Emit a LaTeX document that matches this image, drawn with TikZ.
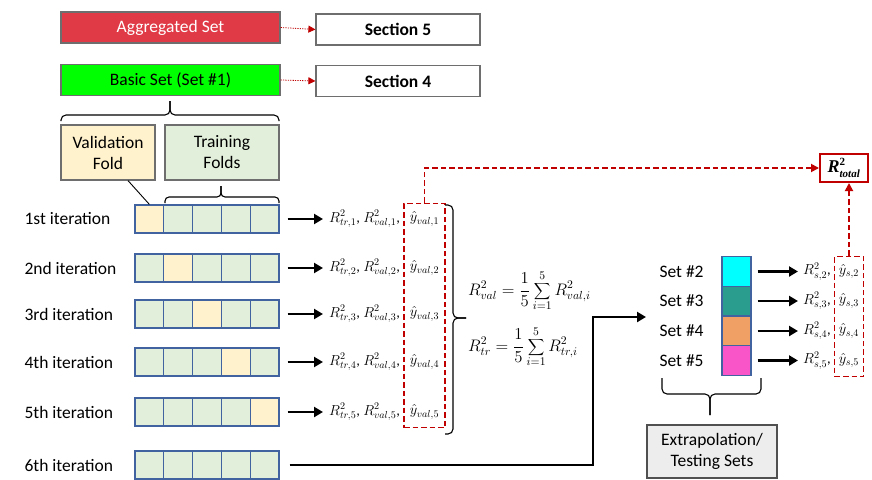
\RequirePackage{fix-cm}
\documentclass[tikz,border=0pt]{standalone}
\usepackage{fontspec}
\setmainfont{Carlito}
\newfontfamily\rtotfont{Liberation Serif}
\usetikzlibrary{arrows.meta,calc}
\definecolor{aggred}{RGB}{224,58,70}
\definecolor{basicgreen}{RGB}{0,255,0}
\definecolor{valfill}{RGB}{255,242,204}
\definecolor{trfill}{RGB}{226,239,218}
\definecolor{cellblue}{RGB}{65,100,160}
\definecolor{boxgray}{RGB}{110,110,110}
\definecolor{dred}{RGB}{192,0,0}
\definecolor{scolA}{RGB}{0,255,255}
\definecolor{scolB}{RGB}{42,157,143}
\definecolor{scolC}{RGB}{240,160,100}
\definecolor{scolD}{RGB}{250,85,200}
\definecolor{extfill}{RGB}{237,237,237}
\definecolor{extdraw}{RGB}{80,80,80}
\newcommand{\rtotsym}{$\mbox{\rtotfont\bfseries\itshape R}^{\mbox{\rtotfont\bfseries\fontsize{11}{11}\selectfont 2}}_{\mbox{\rtotfont\bfseries\itshape\fontsize{11}{11}\selectfont total}}$}
\begin{document}
\begin{tikzpicture}[x=1pt,y=-1pt,
  lbl/.style={font=\fontsize{17.5}{21}\selectfont},
  mth/.style={font=\fontsize{14.5}{16}\selectfont, inner sep=1},
  fml/.style={font=\fontsize{14.5}{16}\selectfont, anchor=west, inner sep=1},
  topbox/.style={draw=boxgray, line width=1.2, minimum width=219, minimum height=31, inner sep=0, lbl},
  secbox/.style={draw=boxgray, line width=1.2, minimum width=164, minimum height=31, inner sep=0, font=\fontsize{17.5}{21}\selectfont\bfseries},
  foldbox/.style={draw=boxgray, line width=1.2, minimum height=55, inner sep=0, lbl, align=center},
  cell/.style={draw=cellblue, line width=1.2, minimum width=28.8, minimum height=28, inner sep=0},
  setcell/.style={draw=cellblue, line width=1.2, minimum width=29, minimum height=29.5, inner sep=0},
  dotarrow/.style={dred, line width=0.8, dash pattern=on 1.2 off 1.2, -{Triangle[length=7,width=7]}},
  bigarrow/.style={black, line width=2.4, -{Triangle[length=9,width=10]}},
  redbox/.style={draw=dred, line width=1.8, dash pattern=on 5.5 off 3, inner sep=0},
  reddash/.style={dred, line width=1.8, dash pattern=on 5.5 off 3, -{Triangle[length=8,width=8]}},
  brc/.style={black, line width=1.1, rounded corners=5},
]
\fill[white] (0,0) rectangle (872,479);
\useasboundingbox (0,0) rectangle (872,479);

% top boxes
\node[topbox, fill=aggred, text=white] (agg) at (170.5,27.5) {Aggregated Set};
\node[secbox] (sec5) at (398,29.5) {Section 5};
\draw[dotarrow] (agg.east) -- (sec5.west);
\node[topbox, fill=basicgreen] (basic) at (170.5,80) {Basic Set (Set \#1)};
\node[secbox] (sec4) at (398,81) {Section 4};
\draw[dotarrow] (basic.east) -- (sec4.west);

% brace under basic set
\draw[brc] (61,121) |- (170,115) -- (170,101);
\draw[brc] (279,121) |- (170,115) -- (170,101);

% fold boxes
\node[foldbox, fill=valfill, minimum width=94] (val) at (108,152.5) {Validation\\Fold};
\node[foldbox, fill=trfill, minimum width=114] (trn) at (222,152.5) {Training\\Folds};

% iteration rows
\foreach \rr/\yy/\tt in {1/219/1st,2/268/2nd,3/314/3rd,4/362/4th,5/412/5th,6/465/6th}{
  \node[lbl,anchor=west] (lab\rr) at (21,\yy) {\tt\ iteration};
  \foreach \cc in {1,...,5}{
    \ifnum\cc=\rr \def\fc{valfill}\else\def\fc{trfill}\fi
    \node[cell,fill=\fc] (c\rr\cc) at ({120.6+\cc*28.8},\yy) {};
  }
}

% validation pointer and training brace
\draw[black, line width=0.9] ($(val.south west)!0.71!(val.south east)$) -- (c11.north);
\draw[brc, rounded corners=4] (165,203) |- (221,197) -- (221,186);
\draw[brc, rounded corners=4] (279,203) |- (221,197) -- (221,186);

% results of rows 1-5
\foreach \rr/\yy in {1/219,2/268,3/314,4/362,5/412}{
  \node[mth,anchor=west] (rr\rr) at (328,\yy) {$R^2_{tr,\rr}$, $R^2_{val,\rr}$,};
  \node[mth] (yv\rr) at (424.5,\yy) {$\hat{y}_{val,\rr}$};
  \draw[bigarrow] ([xshift=8]c\rr5.east) -- ([xshift=-5]rr\rr.west);
}
\node[redbox, minimum width=41, minimum height=224] (valbox) at (424.5,315.5) {};

% right brace
\draw[brc] (445,205) -| (453,318) -- (466,318);
\draw[brc] (445,434) -| (453,318) -- (466,318);

% formulas
\node[fml] (fval) at (467,291) {\scalebox{1.15}{$\displaystyle R^2_{val}=\frac{1}{5}\sum_{i=1}^{5}R^2_{val,i}$}};
\node[fml] (ftr) at (467,347) {\scalebox{1.15}{$\displaystyle R^2_{tr}=\frac{1}{5}\sum_{i=1}^{5}R^2_{tr,i}$}};

% sets
\foreach \kk/\yy/\col in {2/271.5/scolA,3/301/scolB,4/331/scolC,5/360.5/scolD}{
  \node[setcell,fill=\col] (s\kk) at (736.5,\yy) {};
  \node[lbl,anchor=west] (sl\kk) at (656,\yy) {Set \#\kk};
  \node[mth,anchor=west] (sr\kk) at (802,\yy) {$R^2_{s,\kk}$,};
  \node[mth] (ys\kk) at (849,\yy) {$\hat{y}_{s,\kk}$};
  \draw[bigarrow] ([xshift=6]s\kk.east) -- ([xshift=-4]sr\kk.west);
}
\node[redbox, minimum width=29, minimum height=120] (sbox) at (849,316.5) {};

% 6th iteration arrow
\coordinate (turnA) at (593,465);
\coordinate (turnB) at (593,317);
\coordinate (xin) at (646,317);
\draw[bigarrow] ([xshift=10]c65.east) -- (turnA) -- (turnB) -- (xin);

% brace under sets and extrapolation box
\draw[brc] (662,378) |- (710,394) -- (710,415);
\draw[brc] (761,378) |- (710,394) -- (710,415);
\node[draw=extdraw, fill=extfill, line width=1.2, lbl, align=center, minimum width=130, minimum height=53, inner sep=0] (ext) at (712,451.5) {Extrapolation/\\Testing Sets};

% R2 total
\node[draw=dred, line width=2, minimum width=48, minimum height=28, inner sep=0, font=\fontsize{18}{20}\selectfont] (rtot) at (844,168) {\rtotsym};
\draw[reddash] (valbox.north) |- (rtot.west);
\draw[reddash] (sbox.north) -- (sbox.north |- rtot.south);
\end{tikzpicture}
\end{document}
